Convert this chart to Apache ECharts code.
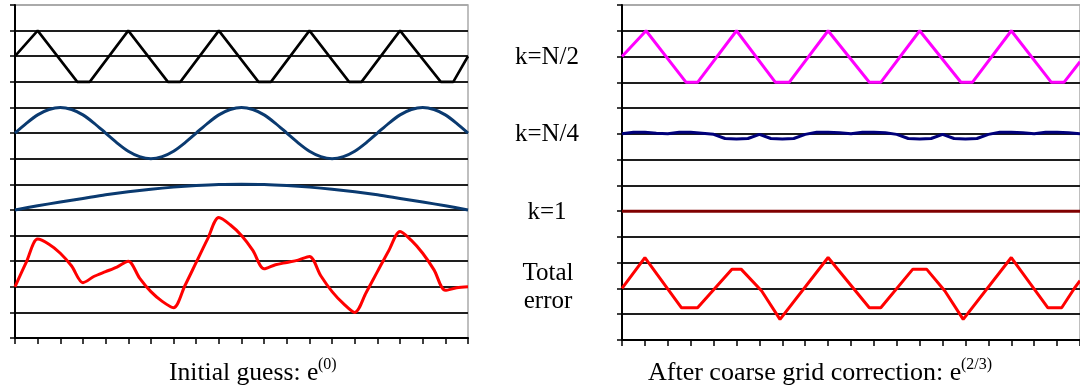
<!DOCTYPE html>
<html><head><meta charset="utf-8">
<script src="https://cdn.jsdelivr.net/npm/echarts@6/dist/echarts.min.js"></script>
<style>html,body{margin:0;padding:0;background:#fff}#c{width:1080px;height:389px}</style>
</head><body><div id="c"></div>
<script>
// ---- data ----
const xHalf = [0,0.5,1,1.5,2,2.5,3,3.5,4,4.5,5,5.5,6,6.5,7,7.5,8,8.5,9,9.5,10,10.5,11,11.5,12,12.5,13,13.5,14,14.5,15,15.5,16,16.5,17,17.5,18,18.5,19,19.5,20];
const xUnit = [0,1,2,3,4,5,6,7,8,9,10,11,12,13,14,15,16,17,18,19,20];

// Left panel: initial guess
const leftHighX = [0,1,2.75,3.3,5,6.75,7.3,9,10.75,11.3,13,14.75,15.3,17,18.8,19.35,20];
const leftHighY = [11,12,10,10,12,10,10,12,10,10,12,10,10,12,10,10,11];
const leftQuarter = [8,8.38,8.71,8.92,9,8.92,8.71,8.38,8,7.62,7.29,7.08,7,7.08,7.29,7.62,8,8.38,8.71,8.92,9,8.92,8.71,8.38,8,7.62,7.29,7.08,7,7.08,7.29,7.62,8,8.38,8.71,8.92,9,8.92,8.71,8.38,8];
const leftSmooth = [5,5.16,5.31,5.45,5.59,5.71,5.81,5.89,5.95,5.99,6,5.99,5.95,5.89,5.81,5.71,5.59,5.45,5.31,5.16,5];
const leftTotal = [2.00,2.96,3.86,3.66,3.31,2.81,2.16,2.41,2.59,2.77,3.00,2.34,1.81,1.43,1.18,2.04,2.95,3.86,4.70,4.42,4.00,3.42,2.70,2.86,2.95,3.04,3.18,2.43,1.81,1.34,1.00,1.77,2.59,3.41,4.16,3.81,3.31,2.66,1.86,1.96,2.00];

// Right panel: after coarse grid correction
const rightHighX = [0,1.05,2.8,3.3,5,6.7,7.3,9,10.8,11.3,13,14.8,15.3,17,18.75,19.3,20];
const rightHighY = [11,12,10,10,12,10,10,12,10,10,12,10,10,12,10,10,10.8];
const rightQuarter = [8.0,8.06,8.06,8.02,8.0,8.06,8.06,8.02,7.98,7.82,7.8,7.82,7.98,7.82,7.8,7.82,7.98,8.06,8.06,8.04,8.0,8.06,8.06,8.04,7.98,7.82,7.8,7.82,7.98,7.82,7.8,7.82,7.98,8.06,8.06,8.04,8.0,8.06,8.06,8.04,8.0];
const rightSmoothX = [0,20];
const rightSmoothY = [5,5];
const rightTotalX = [0,1,2.6,3.3,4.8,5.2,6.1,6.9,9,10.8,11.3,12.7,13.3,14.1,14.9,17,18.6,19.2,19.75,20];
const rightTotalY = [2,3.2,1.25,1.25,2.75,2.75,1.9,0.8,3.2,1.25,1.25,2.75,2.75,1.9,0.8,3.2,1.25,1.25,2.0,2.3];

const rowLabels = ['k=N/2','k=N/4','k=1','Total','error'];
const leftCaption = 'Initial guess: e';
const leftSup = '(0)';
const rightCaption = 'After coarse grid correction: e';
const rightSup = '(2/3)';

// ---- build ----
const zip = (xs, ys) => xs.map((x, i) => [x, ys[i]]);
const gridColors = ['#1e1e1e','#1e1e1e','#1e1e1e','#1e1e1e','#1e1e1e','#1e1e1e','#1e1e1e','#1e1e1e','#1e1e1e','#1e1e1e','#1e1e1e','#1e1e1e','#1e1e1e','#aaaaaa'];

function xAx(i){return {gridIndex:i,type:'value',min:0,max:20,interval:1,
  axisLine:{show:true,onZero:false,lineStyle:{color:'#000',width:2}},
  axisTick:{show:true,inside:false,length:6,lineStyle:{color:'#000',width:1.5}},
  axisLabel:{show:false},splitLine:{show:false}};}
function yAx(i){return {gridIndex:i,type:'value',min:0,max:13,interval:1,
  axisLine:{show:true,lineStyle:{color:'#000',width:2}},
  axisTick:{show:true,inside:false,length:5,lineStyle:{color:'#000',width:1.5}},
  axisLabel:{show:false},splitLine:{show:true,lineStyle:{color:gridColors,width:2}}};}
function ln(i, data, color, width, smooth){return {type:'line',xAxisIndex:i,yAxisIndex:i,data:data,
  symbol:'none',showSymbol:false,silent:true,animation:false,smooth:smooth||false,
  lineStyle:{color:color,width:width},z:3};}

const serif = '"Liberation Serif","Times New Roman",serif';
function txt(x,y,t,size,align){return {type:'text',x:x,y:y,silent:true,
  style:{text:t,font:size+'px '+serif,fill:'#000',align:align,verticalAlign:'middle'}};}

const chart = echarts.init(document.getElementById('c'), null, {renderer:'canvas'});
chart.setOption({
  animation:false,
  backgroundColor:'#fff',
  grid:[
    {left:15,top:5,width:453,height:333,show:true,borderColor:'#aaa',borderWidth:1.5,backgroundColor:'#fff'},
    {left:622,top:5,width:464,height:335,show:true,borderColor:'#aaa',borderWidth:1.5,backgroundColor:'#fff'}
  ],
  xAxis:[xAx(0),xAx(1)],
  yAxis:[yAx(0),yAx(1)],
  series:[
    ln(0, zip(leftHighX,leftHighY), '#000000', 2.6),
    ln(0, zip(xHalf,leftQuarter), '#0a3a70', 3, 0.3),
    ln(0, zip(xUnit,leftSmooth), '#0a3a70', 3, 0.3),
    ln(0, zip(xHalf,leftTotal), '#ff0000', 3, 0.3),
    ln(1, zip(rightHighX,rightHighY), '#ff00ff', 3),
    ln(1, zip(xHalf,rightQuarter), '#00007a', 3),
    ln(1, zip(rightSmoothX,rightSmoothY), '#800000', 3),
    ln(1, zip(rightTotalX,rightTotalY), '#ff0000', 3)
  ],
  graphic:[
    txt(547,57,rowLabels[0],25,'center'),
    txt(547,134,rowLabels[1],25,'center'),
    txt(547,212,rowLabels[2],25,'center'),
    txt(548,273,rowLabels[3],25,'center'),
    txt(548,301,rowLabels[4],25,'center'),
    txt(169,373,leftCaption,25.6,'left'),
    txt(318,365,leftSup,16,'left'),
    txt(648,373,rightCaption,26,'left'),
    txt(961,365,rightSup,16,'left')
  ]
});
</script></body></html>
